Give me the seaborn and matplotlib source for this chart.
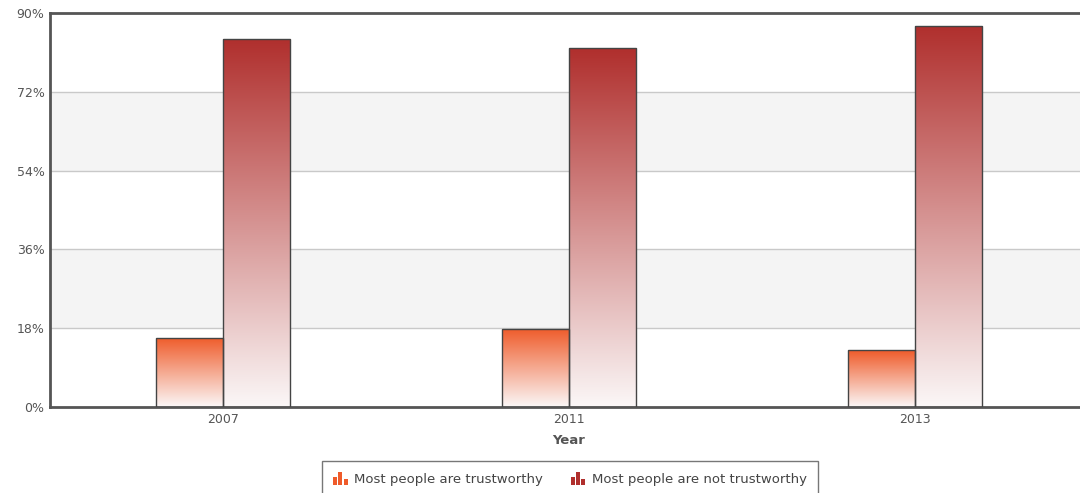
import numpy as np
import pandas as pd
import matplotlib
matplotlib.use("Agg")
import matplotlib.pyplot as plt
import matplotlib.colors as mcolors
from matplotlib.patches import Rectangle
from matplotlib.legend_handler import HandlerBase
import seaborn as sns

years = ["2007", "2011", "2013"]
series = ["Most people are trustworthy", "Most people are not trustworthy"]
trustworthy = [15.8, 17.9, 13.0]
not_trustworthy = [84.1, 82.0, 87.1]
yticks = [0, 18, 36, 54, 72, 90]

top_colors = {series[0]: "#EF5B2A", series[1]: "#B02F2D"}
bottom_color = "#FBF7F7"

df = pd.DataFrame({
    "Year": years * 2,
    "Value": trustworthy + not_trustworthy,
    "Series": [series[0]] * 3 + [series[1]] * 3,
})

sns.set_style("white")
plt.rcParams["font.family"] = ["DejaVu Sans"]

fig = plt.figure(figsize=(10.8, 4.93), dpi=100)
ax = fig.add_axes([50 / 1080, 86 / 493, 1038 / 1080, 394 / 493])

sns.barplot(data=df, x="Year", y="Value", hue="Series", hue_order=series,
            palette=top_colors, width=0.39, edgecolor="#444444", linewidth=1.0,
            legend=False, ax=ax, zorder=3)

ax.set_ylim(0, 90)
ax.set_xlim(-0.5, 2.5)

# alternating bands
for i in range(len(yticks) - 1):
    if i % 2 == 1:
        ax.axhspan(yticks[i], yticks[i + 1], color="#F4F4F4", zorder=0, lw=0)
for t in yticks[1:-1]:
    ax.axhline(t, color="#C9C9C9", lw=1, zorder=1)

# gradient fills
for container, name in zip(ax.containers, series):
    top_rgb = np.array(mcolors.to_rgb(top_colors[name]))
    bot_rgb = np.array(mcolors.to_rgb(bottom_color))
    for patch in container.patches:
        x, y0 = patch.get_x(), patch.get_y()
        w, h = patch.get_width(), patch.get_height()
        n = 256
        t = np.linspace(0, 1, n)[:, None]  # 0 at top
        grad = top_rgb[None, :] * (1 - t) + bot_rgb[None, :] * t
        img = grad[:, None, :]
        im = ax.imshow(img, extent=[x, x + w, y0, y0 + h], aspect="auto",
                       origin="upper", zorder=2.5, interpolation="bilinear")
        im.set_clip_path(patch)
        patch.set_facecolor("none")

ax.set_yticks(yticks)
ax.set_yticklabels([f"{v}%" for v in yticks])
ax.tick_params(axis="both", length=0, labelsize=9, colors="#555555", pad=4)
ax.set_xlabel("Year", fontsize=9.5, fontweight="bold", color="#555555", labelpad=6)
ax.set_ylabel("")

for side in ["left", "top", "bottom"]:
    ax.spines[side].set_visible(True)
    ax.spines[side].set_color("#555555")
    ax.spines[side].set_linewidth(2)
ax.spines["right"].set_visible(False)


class MiniBarHandler(HandlerBase):
    def __init__(self, color):
        super().__init__()
        self.color = color

    def create_artists(self, legend, orig_handle, xdescent, ydescent, width,
                       height, fontsize, trans):
        arts = []
        bw = width / 3.6
        heights = [0.6, 1.0, 0.45]
        for k, hh in enumerate(heights):
            r = Rectangle((-xdescent + k * bw * 1.3, -ydescent - 1), bw, height * 1.15 * hh,
                          facecolor=self.color, edgecolor="none", transform=trans)
            arts.append(r)
        return arts


h1 = Rectangle((0, 0), 1, 1, color=top_colors[series[0]])
h2 = Rectangle((0, 0), 1, 1, color=top_colors[series[1]])
leg = fig.legend([h1, h2], series, loc="upper center",
                 bbox_to_anchor=(570 / 1080, 32 / 493), ncol=2, frameon=True,
                 fancybox=False, fontsize=9.5, handlelength=1.1, handleheight=1.0,
                 handletextpad=0.5, columnspacing=2.1, borderpad=0.85,
                 borderaxespad=0,
                 handler_map={h1: MiniBarHandler("#EF5B2A"), h2: MiniBarHandler("#B02F2D")})
leg.get_frame().set_edgecolor("#555555")
leg.get_frame().set_linewidth(1)
for txt in leg.get_texts():
    txt.set_color("#444444")

fig.savefig("out.png", dpi=100)
